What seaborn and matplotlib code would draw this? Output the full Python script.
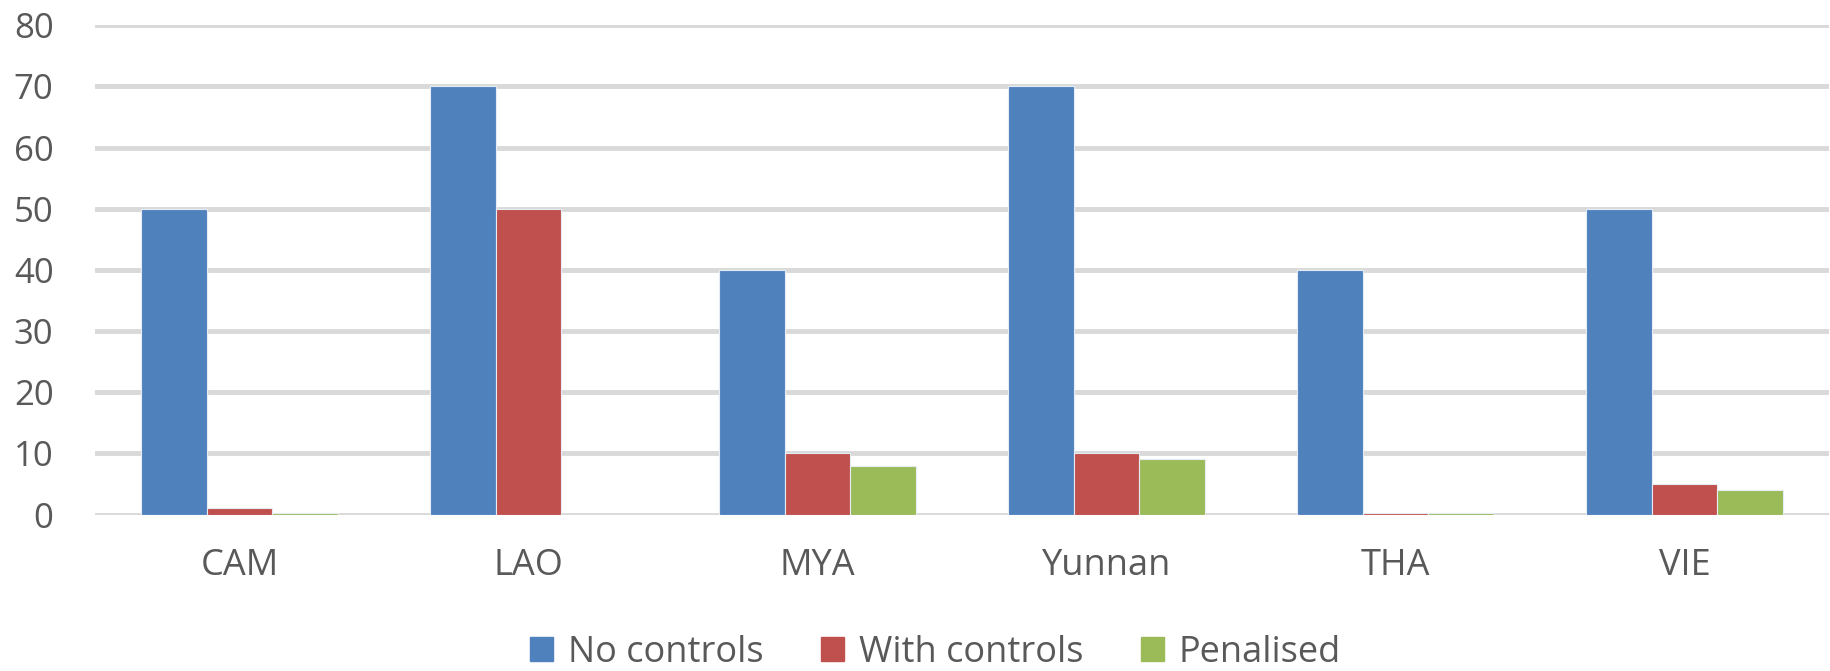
import pandas as pd
import matplotlib.pyplot as plt
import seaborn as sns

# ---------------------------
# Data
# ---------------------------
regions = ["CAM", "LAO", "MYA", "Yunnan", "THA", "VIE"]
no_controls = [50, 70, 40, 70, 40, 50]
with_controls = [1, 50, 10, 10, 0.3, 5]
penalised = [0.3, 0, 8, 9, 0.3, 4]

series_names = ["No controls", "With controls", "Penalised"]
colors = ["#4F81BD", "#C0504D", "#9BBB59"]

df = pd.DataFrame({
    "region": regions * 3,
    "value": no_controls + with_controls + penalised,
    "series": [s for s in series_names for _ in regions],
})

# ---------------------------
# Plot
# ---------------------------
sns.set_style("white")
plt.rcParams['font.family'] = ['Open Sans', 'DejaVu Sans']

fig = plt.figure(figsize=(18.31, 6.71), dpi=100)
ax = fig.add_axes([0.052, 0.2332, 0.947, 0.7291])

sns.barplot(data=df, x="region", y="value", hue="series", order=regions,
            hue_order=series_names, palette=colors, width=0.68,
            saturation=1, edgecolor="#E6ECF5", linewidth=0.8, ax=ax, zorder=3)

ax.set_ylim(0, 80)
ax.set_yticks(range(0, 81, 10))
ax.set_xlim(-0.5, len(regions) - 0.5)
ax.grid(axis="y", color="#D9D9D9", linewidth=3.5, zorder=0)
ax.set_axisbelow(True)
for s in ax.spines.values():
    s.set_visible(False)
ax.set_xlabel("")
ax.set_ylabel("")
ax.tick_params(axis="y", length=0, pad=30, labelsize=25, labelcolor="#595959")
ax.tick_params(axis="x", length=0, pad=24, labelsize=26, labelcolor="#595959")

ax.legend_.remove()
handles = [plt.Rectangle((0, 0), 1, 1, color=c) for c in colors]
fig.legend(handles, series_names, loc="center", bbox_to_anchor=(0.511, 0.027),
           ncol=3, frameon=False, fontsize=26, labelcolor="#595959",
           handlelength=0.64, handleheight=0.64, handletextpad=0.4,
           columnspacing=1.6, borderpad=0)

fig.savefig("out.png", dpi=100)
